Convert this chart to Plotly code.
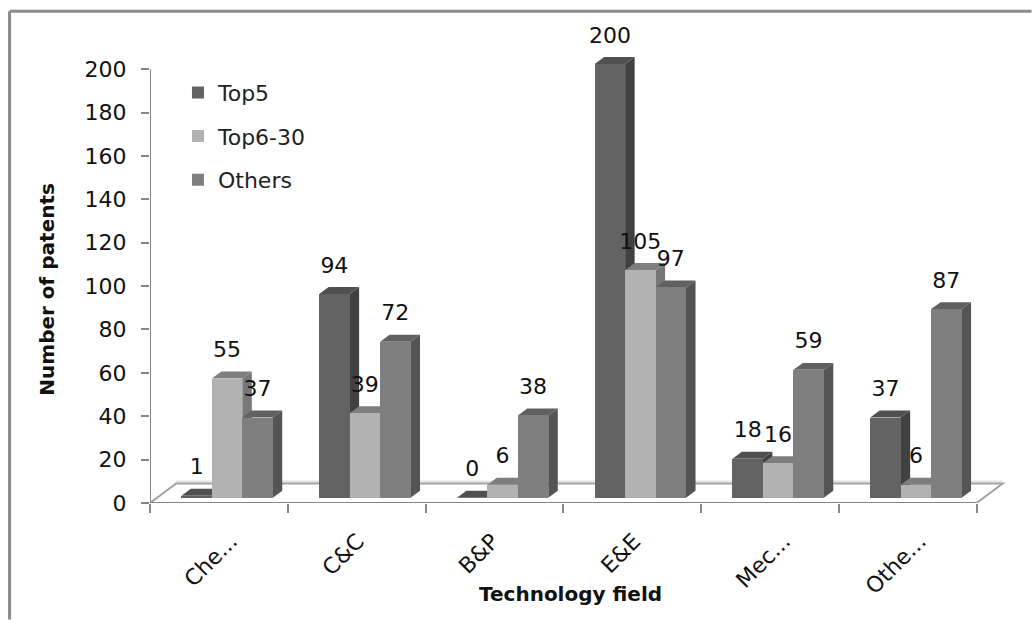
import plotly.graph_objects as go

categories = ["Che...", "C&C", "B&P", "E&E", "Mec...", "Othe..."]
series_names = ["Top5", "Top6-30", "Others"]
top5 = [1, 94, 0, 200, 18, 37]
top6_30 = [55, 39, 6, 105, 16, 6]
others = [37, 72, 38, 97, 59, 87]
y_ticks = list(range(0, 201, 20))
x_title = "Technology field"
y_title = "Number of patents"

front_colors = ["#636363", "#b2b2b2", "#7f7f7f"]
side_colors = ["#414141", "#777777", "#545454"]
top_colors = ["#505050", "#7e7e7e", "#606060"]

FLOOR = 2.4
DX, DY = 0.069, 3.2
BAR_W = 0.221
GROUP_START = 0.228
LABEL_UP = 12.4
FONT = "DejaVu Sans"
AXIS_GRAY = "#868686"

W, H = 1032, 620
X0 = 150
PX_PER_X = 137.83          # pixels per category
PX_PER_Y = 2.17            # pixels per patent
Y_ZERO = 503.5
X_MAX, Y_MAX = 6.25, 225
X1 = X0 + X_MAX * PX_PER_X
YTOP = Y_ZERO - Y_MAX * PX_PER_Y
label_nudge = [12, 1, -2, 2, 14, 12]   # category label nudge in pixels


def paper_x(px):
    return (px - X0) / (X1 - X0)


def paper_y(py):
    return (Y_ZERO - py) / (Y_ZERO - YTOP)


fig = go.Figure()
for i, (name, vals) in enumerate(zip(series_names, [top5, top6_30, others])):
    centers = [k + GROUP_START + BAR_W * (i + 0.5) for k in range(len(categories))]
    sx, sy, tx, ty = [], [], [], []
    for c, v in zip(centers, vals):
        r = c + BAR_W / 2
        l = c - BAR_W / 2
        t = v + FLOOR
        sx += [r, r + DX, r + DX, r, r, None]
        sy += [FLOOR, FLOOR + DY, t + DY, t, FLOOR, None]
        tx += [l, r, r + DX, l + DX, l, None]
        ty += [t, t, t + DY, t + DY, t, None]
    z = 2 * i + 1
    fig.add_trace(go.Scatter(x=sx, y=sy, mode="lines", fill="toself", fillcolor=side_colors[i],
                             line=dict(width=0), showlegend=False, hoverinfo="skip", zorder=z))
    fig.add_trace(go.Scatter(x=tx, y=ty, mode="lines", fill="toself", fillcolor=top_colors[i],
                             line=dict(width=0), showlegend=False, hoverinfo="skip", zorder=z))
    fig.add_trace(go.Bar(x=centers, y=vals, base=FLOOR, width=BAR_W, name=name,
                         marker=dict(color=front_colors[i], line=dict(width=0)),
                         legendgroup=name, zorder=z + 1))
    fig.add_trace(go.Scatter(x=centers, y=[v + FLOOR + LABEL_UP for v in vals], mode="text",
                             text=[str(v) for v in vals], textposition="middle center",
                             textfont=dict(family=FONT, size=22, color="#111111"),
                             showlegend=False, hoverinfo="skip", zorder=20))

# floor outline
floor_dx, floor_dy = 0.19, 9
fig.add_shape(type="line", layer="below", xref="x", yref="y", x0=floor_dx, x1=6 + floor_dx,
              y0=floor_dy + 0.9, y1=floor_dy + 0.9, line=dict(color="#e2e2e2", width=2))
fig.add_shape(type="path", layer="below", xref="x", yref="y",
              path=f"M 0 0 L {floor_dx} {floor_dy} L {6 + floor_dx} {floor_dy} L 6 0",
              line=dict(color="#a3a3a3", width=2), fillcolor="rgba(0,0,0,0)")
# axis lines, limited to the axis extent
fig.add_shape(type="line", xref="x", yref="y", x0=0, x1=0, y0=0, y1=200,
              line=dict(color=AXIS_GRAY, width=2))
fig.add_shape(type="line", xref="x", yref="y", x0=0, x1=6, y0=0, y1=0,
              line=dict(color=AXIS_GRAY, width=2))
# outer frame: only top and left edges show
fig.add_shape(type="line", xref="paper", yref="paper", layer="below",
              x0=paper_x(9.5), x1=paper_x(W), y0=paper_y(11.5), y1=paper_y(11.5),
              line=dict(color="#8a8a8a", width=3))
fig.add_shape(type="line", xref="paper", yref="paper", layer="below",
              x0=paper_x(9.5), x1=paper_x(9.5), y0=paper_y(H), y1=paper_y(11.5),
              line=dict(color="#8a8a8a", width=3))

# axis titles
fig.add_annotation(text=f"<b>{x_title}</b>", xref="paper", yref="paper", showarrow=False,
                   x=paper_x(571), y=paper_y(595), xanchor="center", yanchor="middle",
                   font=dict(family=FONT, size=20, color="#111111"))
fig.add_annotation(text=f"<b>{y_title}</b>", xref="paper", yref="paper", showarrow=False,
                   x=paper_x(47), y=paper_y(290), xanchor="center", yanchor="middle", textangle=-90,
                   font=dict(family=FONT, size=20, color="#111111"))

fig.update_layout(
    width=W, height=H, autosize=False,
    margin=dict(l=X0, r=W - X1, t=YTOP, b=H - Y_ZERO, pad=0),
    plot_bgcolor="white", paper_bgcolor="white",
    barmode="overlay", bargap=0,
    font=dict(family=FONT, size=22, color="#111111"),
    showlegend=True,
    legend=dict(x=paper_x(178), y=paper_y(72), xanchor="left", yanchor="top",
                font=dict(family=FONT, size=22, color="#222222"),
                bgcolor="rgba(0,0,0,0)", tracegroupgap=12, itemwidth=30, traceorder="grouped"),
    xaxis=dict(range=[0, X_MAX], tickmode="array",
               tickvals=[k + 0.5 + n / PX_PER_X for k, n in enumerate(label_nudge)],
               ticktext=categories, tickangle=-45, ticks="", showgrid=False, zeroline=False,
               showline=False, ticklabelstandoff=20, automargin=False,
               tickfont=dict(family=FONT, size=22, color="#111111"),
               minor=dict(tickmode="array", tickvals=list(range(7)), ticks="outside",
                          ticklen=9, tickwidth=2, tickcolor=AXIS_GRAY, showgrid=False)),
    yaxis=dict(range=[0, Y_MAX], tickmode="array", tickvals=y_ticks,
               ticks="outside", ticklen=8, tickwidth=2, tickcolor=AXIS_GRAY,
               showgrid=False, zeroline=False, showline=False, ticklabelstandoff=10,
               automargin=False,
               tickfont=dict(family=FONT, size=22, color="#111111")),
)
fig.write_html("out.html", config=dict(displayModeBar=False),
               post_script="document.body.style.margin='0';document.body.style.overflow='hidden';")
